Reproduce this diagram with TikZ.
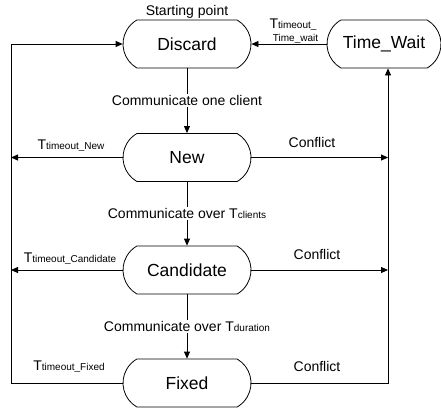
\documentclass[tikz,border=0pt]{standalone}
\usepackage{fontspec}
\setmainfont{Liberation Sans}
\usetikzlibrary{shapes.misc,arrows.meta}
\newcommand\nodefnt{\fontsize{17.5bp}{20bp}\selectfont}
\newcommand\lblfnt{\fontsize{14bp}{16bp}\selectfont}
\newcommand\subfnt{\fontsize{10bp}{12bp}\selectfont}
\newcommand\Tsub[1]{T{\subfnt #1}}
\tikzset{
  state/.style={draw, rounded rectangle, rounded rectangle arc length=120,
    minimum width=128bp, minimum height=48bp, inner sep=0pt, font=\nodefnt},
  arr/.style={-{Triangle[length=7bp,width=6bp]}},
  lbl/.style={font=\lblfnt, inner sep=0pt, anchor=base},
  mid/.style={font=\lblfnt, fill=white, inner sep=1.5bp}
}
\begin{document}
\begin{tikzpicture}[x=1bp,y=-1bp,line width=0.8bp]
\useasboundingbox (0,0) rectangle (441,409);
\node[state] (discard) at (187,44) {Discard};
\node[state, minimum width=114bp] (tw) at (384,44) {Time\_Wait};
\node[state] (new) at (187,157.5) {New};
\node[state] (cand) at (187,270) {Candidate};
\node[state] (fixed) at (187,383) {Fixed};
\coordinate (L) at (11,383);
\coordinate (R) at (388,383);
\node[lbl] (start) at (187,15) {Starting point};
% main chain
\draw[arr] (discard.south) -- node[mid] (c1) {Communicate one client} (new.north);
\draw[arr] (new.south) -- node[mid] (c2) {Communicate over \Tsub{clients}} (cand.north);
\draw[arr] (cand.south) -- node[mid] (c3) {Communicate over \Tsub{duration}} (fixed.north);
% time wait
\draw[arr] (tw.west) -- (discard.east);
\node[lbl] (tw1) at (293,28) {T{\subfnt timeout\_}};
\node[lbl] (tw2) at (295.5,41.5) {\subfnt Time\_wait};
% left side
\draw[arr] (fixed.west) -- (L) |- (discard.west);
\draw[arr] (new.west) -- (new.west -| L);
\draw[arr] (cand.west) -- (cand.west -| L);
% right side
\draw[arr] (fixed.east) -- (R) -- (R |- tw.south);
\draw[arr] (new.east) -- (new.east -| R);
\draw[arr] (cand.east) -- (cand.east -| R);
% labels
\node[lbl] (ln) at (71,149) {\Tsub{timeout\_New}};
\node[lbl] (rn) at (312,147) {Conflict};
\node[lbl] (lc) at (70,262) {\Tsub{timeout\_Candidate}};
\node[lbl] (rc) at (317,259) {Conflict};
\node[lbl] (lf) at (69,370) {\Tsub{timeout\_Fixed}};
\node[lbl] (rf) at (317,371) {Conflict};
\end{tikzpicture}
\end{document}
